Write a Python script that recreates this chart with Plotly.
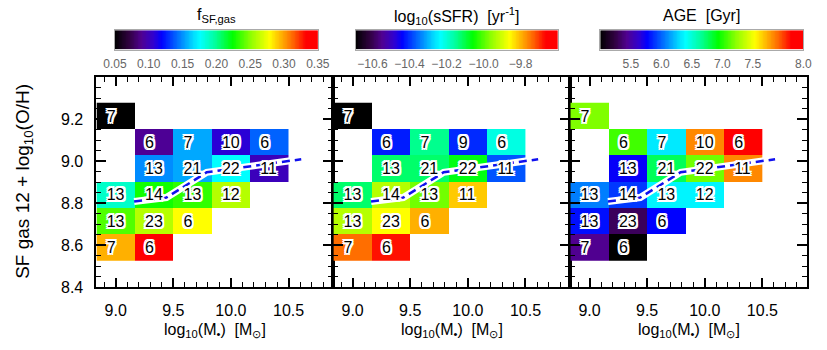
import plotly.graph_objects as go

# ---------------- data ----------------
mass_centers = [9.0, 9.333, 9.667, 10.0, 10.333]          # log10(M*) bin centres
oh_centers = [8.590, 8.715, 8.840, 8.965, 9.090, 9.215]   # 12+log(O/H) bin centres
N = None

fsf_gas = [
    [0.296, 0.332, N, N, N],
    [0.239, 0.260, 0.278, N, N],
    [0.188, 0.227, 0.233, 0.260, N],
    [N, 0.149, 0.155, 0.176, 0.101],
    [N, 0.0905, 0.155, 0.1085, 0.140],
    [0.050, N, N, N, N],
]
log_ssfr = [
    [-9.742, -9.676, N, N, N],
    [-9.927, -9.862, -9.796, N, N],
    [-10.123, -9.927, -9.980, -9.818, N],
    [N, -10.123, -10.123, -10.069, -10.374],
    [N, -10.418, -10.145, -10.407, -10.210],
    [-10.690, N, N, N, N],
]
age_gyr = [
    [5.433, 5.000, N, N, N],
    [5.800, 5.300, 5.766, N, N],
    [6.066, 5.900, 6.365, 6.365, N],
    [N, 5.750, 6.765, 7.165, 7.830],
    [N, 7.065, 6.332, 7.830, 8.160],
    [7.198, N, N, N, N],
]
counts_fsf = [
    [7, 6, N, N, N],
    [13, 23, 6, N, N],
    [13, 14, 13, 12, N],
    [N, 13, 21, 22, 11],
    [N, 6, 7, 10, 6],
    [7, N, N, N, N],
]
counts_ssfr = [
    [7, 6, N, N, N],
    [13, 23, 6, N, N],
    [13, 14, 13, 11, N],
    [N, 13, 21, 22, 11],
    [N, 6, 7, 9, 6],
    [7, N, N, N, N],
]
counts_age = counts_fsf

trend_x = [9.16, 9.44, 9.79, 9.93, 10.21, 10.61]
trend_y = [8.808, 8.827, 8.947, 8.958, 8.978, 9.009]

cb_titles = ["f<sub>SF,gas</sub>", "log<sub>10</sub>(sSFR)  [yr<sup>-1</sup>]", "AGE  [Gyr]"]
cb_ranges = [(0.05, 0.35), (-10.69, -9.60), (5.0, 8.33)]
cb_tickvals = [[0.05, 0.10, 0.15, 0.20, 0.25, 0.30, 0.35],
               [-10.6, -10.4, -10.2, -10.0, -9.8],
               [5.5, 6.0, 6.5, 7.0, 7.5, 8.33]]
cb_ticktext = [["0.05", "0.10", "0.15", "0.20", "0.25", "0.30", "0.35"],
               ["\u221210.6", "\u221210.4", "\u221210.2", "\u221210.0", "\u22129.8"],
               ["5.5", "6.0", "6.5", "7.0", "7.5", "8.0"]]
x_ticks = [9.0, 9.5, 10.0, 10.5]
y_ticks = [8.4, 8.6, 8.8, 9.0, 9.2]

# ---------------- style ----------------
rainbow = [
    [0.00, "#000000"], [0.07, "#300040"], [0.13, "#500090"], [0.19, "#3000d0"],
    [0.23, "#0000ff"], [0.31, "#0070ff"], [0.39, "#00e0ff"], [0.42, "#00ffff"],
    [0.49, "#00ffa0"], [0.58, "#00ff00"], [0.67, "#90ff00"], [0.76, "#ffff00"],
    [0.82, "#ffb000"], [0.88, "#ff6000"], [0.94, "#ff0000"], [1.00, "#ff0000"],
]
FONT = "Liberation Sans"
W, H = 827, 350
panel_px = [(87, 331), (331, 575), (575, 819)]
top_px, bot_px = 79, 295
cb_px = [(106, 315), (354, 562), (606, 815)]
cb_top, cb_bot = 31, 51
XRANGE = [8.8333, 10.889]
YRANGE = [8.4, 9.4]
NGRAD = 256

fig = go.Figure()
panels = [(fsf_gas, counts_fsf), (log_ssfr, counts_ssfr), (age_gyr, counts_age)]
outline = ("-1px -1px 0 #fff, 1px -1px 0 #fff, -1px 1px 0 #fff, 1px 1px 0 #fff, "
           "0 2px 0 #fff, 2px 0 0 #fff, -2px 0 0 #fff, 0 -2px 0 #fff, "
           "2px 2px 0 #fff, -2px 2px 0 #fff, 2px -2px 0 #fff, -2px -2px 0 #fff")

for i, (zvals, counts) in enumerate(panels):
    xa = "x" if i == 0 else f"x{i+1}"
    ya = "y" if i == 0 else f"y{i+1}"
    ca = "coloraxis" if i == 0 else f"coloraxis{i+1}"
    fig.add_trace(go.Heatmap(x=mass_centers, y=oh_centers, z=zvals, coloraxis=ca,
                             xaxis=xa, yaxis=ya, hoverongaps=False))
    fig.add_trace(go.Scatter(x=trend_x, y=trend_y, mode="lines", xaxis=xa, yaxis=ya,
                             line=dict(color="white", width=7), showlegend=False))
    fig.add_trace(go.Scatter(x=trend_x, y=trend_y, mode="lines", xaxis=xa, yaxis=ya,
                             line=dict(color="#1010ee", width=2.5, dash="8px,5px"),
                             showlegend=False))
    tx, ty, tt = [], [], []
    for r, row in enumerate(counts):
        for c, n in enumerate(row):
            if n is not None:
                tx.append(mass_centers[c] - 0.078)
                ty.append(oh_centers[r] - 0.008)
                tt.append(str(n))
    fig.add_trace(go.Scatter(x=tx, y=ty, text=tt, mode="text", textposition="middle right",
                             xaxis=xa, yaxis=ya, showlegend=False,
                             textfont=dict(family=FONT, size=16, color="black", shadow=outline)))
    # colour bar drawn as a gradient strip on its own axes
    lo, hi = cb_ranges[i]
    grad = [lo + (hi - lo) * k / (NGRAD - 1) for k in range(NGRAD)]
    fig.add_trace(go.Heatmap(x=grad, y=[0], z=[grad], coloraxis=ca,
                             xaxis=f"x{i+4}", yaxis=f"y{i+4}", hoverinfo="skip"))

layout = dict(width=W, height=H, margin=dict(l=0, r=0, t=0, b=0),
              plot_bgcolor="white", paper_bgcolor="white", showlegend=False,
              font=dict(family=FONT, color="black"))
ydom = [1 - bot_px / H, 1 - top_px / H]
annotations = []
for i in range(3):
    sfx = "" if i == 0 else str(i + 1)
    x0, x1 = panel_px[i]
    layout["xaxis" + sfx] = dict(
        domain=[x0 / W, x1 / W], range=XRANGE, anchor="y" + sfx,
        tickvals=x_ticks, ticktext=[f"{v:.1f}" for v in x_ticks],
        ticks="inside", ticklen=9, tickwidth=1.5, tickcolor="black",
        minor=dict(dtick=0.1, tick0=8.8, ticks="inside", ticklen=5, tickwidth=1.2, tickcolor="black"),
        showline=True, linewidth=2, linecolor="black", mirror="allticks",
        showgrid=False, zeroline=False, tickfont=dict(family=FONT, size=16),
        ticklabelstandoff=7,
    )
    layout["yaxis" + sfx] = dict(
        domain=ydom, range=YRANGE, anchor="x" + sfx,
        tickvals=y_ticks, ticktext=[f"{v:.1f}" for v in y_ticks],
        showticklabels=(i == 0),
        ticks="inside", ticklen=10, tickwidth=1.5, tickcolor="black",
        minor=dict(dtick=0.05, tick0=8.4, ticks="inside", ticklen=5, tickwidth=1.2, tickcolor="black"),
        showline=True, linewidth=2, linecolor="black", mirror="allticks",
        showgrid=False, zeroline=False, tickfont=dict(family=FONT, size=16),
        ticklabelstandoff=8,
    )
    ca = "coloraxis" + sfx
    layout[ca] = dict(colorscale=rainbow, cmin=cb_ranges[i][0], cmax=cb_ranges[i][1],
                      showscale=False)
    b0, b1 = cb_px[i]
    layout[f"xaxis{i+4}"] = dict(
        domain=[b0 / W, b1 / W], range=list(cb_ranges[i]), anchor=f"y{i+4}",
        tickvals=cb_tickvals[i], ticktext=cb_ticktext[i], ticks="", ticklen=0,
        showline=True, linewidth=1, linecolor="#aaaaaa", mirror=True,
        showgrid=False, zeroline=False, tickfont=dict(family=FONT, size=12, color="#666666"),
        ticklabelstandoff=3,
    )
    layout[f"yaxis{i+4}"] = dict(
        domain=[1 - cb_bot / H, 1 - cb_top / H], range=[-0.5, 0.5], anchor=f"x{i+4}",
        showticklabels=False, ticks="", showgrid=False, zeroline=False,
        showline=True, linewidth=1, linecolor="#aaaaaa", mirror=True,
    )
    annotations.append(dict(text=cb_titles[i], xref="paper", yref="paper",
                            x=(b0 + b1) / 2 / W, y=1 - 16 / H, xanchor="center", yanchor="middle",
                            showarrow=False, font=dict(family=FONT, size=16)))
    annotations.append(dict(text="log<sub>10</sub>(M<sub>\u2022</sub>)  [M<sub>\u2299</sub>]",
                            xref="paper", yref="paper", x=(x0 + x1) / 2 / W, y=1 - 339 / H,
                            xanchor="center", yanchor="middle", showarrow=False,
                            font=dict(family=FONT, size=16)))
annotations.append(dict(text="SF gas 12 + log<sub>10</sub>(O/H)", xref="paper", yref="paper",
                        x=13 / W, y=1 - 186 / H, xanchor="center", yanchor="middle",
                        textangle=-90, showarrow=False, font=dict(family=FONT, size=19)))
layout["annotations"] = annotations
fig.update_layout(**layout)
fig.write_html("out.html", config={"displayModeBar": False},
               post_script="document.body.style.margin='0';document.body.style.padding='0';")
